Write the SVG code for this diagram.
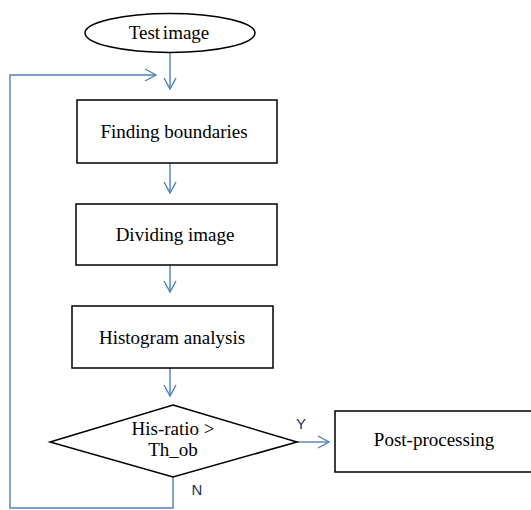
<svg xmlns="http://www.w3.org/2000/svg" width="531" height="510" viewBox="0 0 531 510">
<style>
.box{fill:#fff;stroke:#000;stroke-width:1.5}
.lbl{font-family:"Liberation Serif","Times New Roman",serif;font-size:19px;fill:#000;text-anchor:middle}
.yn{font-family:"Liberation Sans",Arial,sans-serif;font-size:15px;fill:#1f3050;text-anchor:middle}
.con{fill:none;stroke:#4F81BD;stroke-width:1.4}
</style>
<defs>
<marker id="ah" markerUnits="userSpaceOnUse" markerWidth="14" markerHeight="14" refX="12" refY="7" orient="auto">
<path d="M1,1 L12,7 L1,13" fill="none" stroke="#4F81BD" stroke-width="1.4"/>
</marker>
</defs>
<g id="connectors">
<line class="con" x1="170" y1="53" x2="170" y2="89" marker-end="url(#ah)"/>
<line class="con" x1="170" y1="163" x2="170" y2="193" marker-end="url(#ah)"/>
<line class="con" x1="170" y1="265" x2="170" y2="292" marker-end="url(#ah)"/>
<line class="con" x1="170" y1="368" x2="170" y2="396" marker-end="url(#ah)"/>
<line class="con" x1="297" y1="442" x2="329" y2="442" marker-end="url(#ah)"/>
<polyline class="con" points="173,477 173,508 10,508 10,75 156,75" marker-end="url(#ah)"/>
<text class="yn" x="301" y="429">Y</text>
<text class="yn" x="197" y="495">N</text>
</g>
<g id="start">
<ellipse class="box" cx="170" cy="33" rx="85" ry="19.5"/>
<text class="lbl" x="169" y="39" word-spacing="-2">Test image</text>
</g>
<g id="finding">
<rect class="box" x="77" y="100" width="200" height="63"/>
<text class="lbl" x="174" y="138">Finding boundaries</text>
</g>
<g id="dividing">
<rect class="box" x="76" y="204" width="201" height="61"/>
<text class="lbl" x="175" y="241">Dividing image</text>
</g>
<g id="histogram">
<rect class="box" x="72" y="306" width="201" height="62"/>
<text class="lbl" x="172" y="344">Histogram analysis</text>
</g>
<g id="decision">
<polygon class="box" points="173,405 297,442 173,477 50,442"/>
<text class="lbl" x="173" y="435">His-ratio &gt;</text>
<text class="lbl" x="173" y="456">Th_ob</text>
</g>
<g id="post">
<rect class="box" x="335" y="411" width="198" height="61"/>
<text class="lbl" x="434" y="446">Post-processing</text>
</g>
</svg>
